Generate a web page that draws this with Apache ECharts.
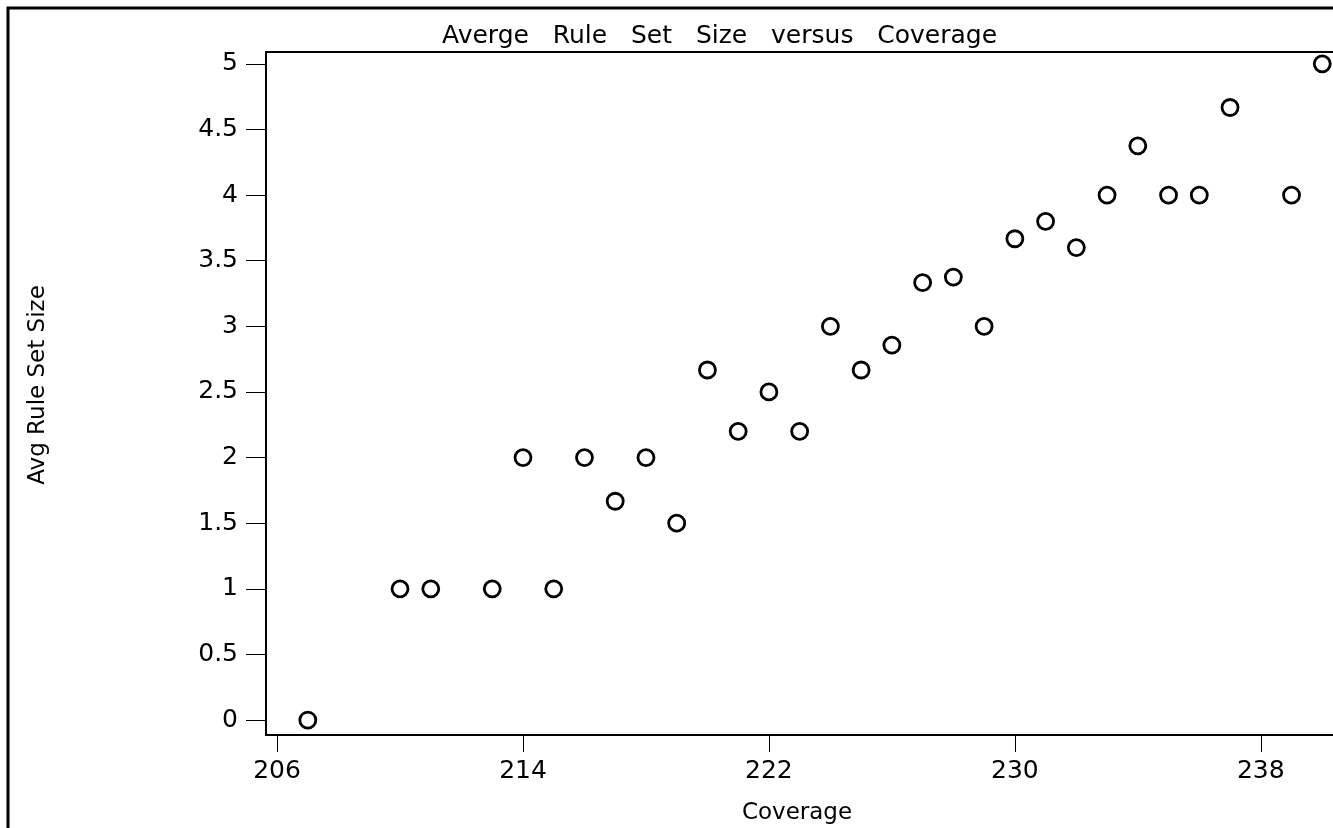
<!DOCTYPE html>
<html>
<head>
<meta charset="utf-8">
<script src="https://cdn.jsdelivr.net/npm/echarts@6/dist/echarts.min.js"></script>
<style>html,body{margin:0;padding:0;background:#fff}#c{width:1333px;height:828px}</style>
</head>
<body>
<div id="c"></div>
<script>
var coverage = [207,210,211,213,214,215,216,217,218,219,220,221,222,223,224,225,226,227,228,229,230,231,232,233,234,235,236,237,239,240];
var avgRuleSetSize = [0,1,1,1,2,1,2,1.667,2,1.5,2.667,2.2,2.5,2.2,3,2.667,2.857,3.333,3.375,3,3.667,3.8,3.6,4,4.375,4,4,4.667,4,5];
var xTicks = [206,214,222,230,238];
var yTicks = [0,0.5,1,1.5,2,2.5,3,3.5,4,4.5,5];
var titleText = 'Averge   Rule   Set   Size   versus   Coverage';
var xName = 'Coverage';
var yName = 'Avg Rule Set Size';

var font = '"DejaVu Sans", sans-serif';
var chart = echarts.init(document.getElementById('c'), null, {renderer:'canvas'});
var pts = coverage.map(function(x,i){return [x, avgRuleSetSize[i]];});
chart.setOption({
  animation:false,
  backgroundColor:'#fff',
  title:{text:titleText,left:437,top:19,textStyle:{fontFamily:font,fontSize:25,fontWeight:'normal',color:'#000'}},
  grid:{left:266,top:52,width:1087,height:683,show:true,borderColor:'#000',borderWidth:2,containLabel:false,outerBoundsMode:'none'},
  xAxis:{type:'value',min:205.64,max:241,
    axisLine:{show:true,onZero:false,lineStyle:{color:'#000',width:2}},
    axisTick:{show:true,customValues:xTicks,length:17,lineStyle:{color:'#000',width:1}},
    axisLabel:{show:true,customValues:xTicks,margin:24,fontFamily:font,fontSize:25,color:'#000'},
    splitLine:{show:false}},
  yAxis:{type:'value',min:-0.114,max:5.09,
    axisLine:{show:true,onZero:false,lineStyle:{color:'#000',width:2}},
    axisTick:{show:true,customValues:yTicks,length:20,lineStyle:{color:'#000',width:1}},
    axisLabel:{show:true,customValues:yTicks,margin:28,fontFamily:font,fontSize:25,color:'#000'},
    splitLine:{show:false}},
  graphic:[
    {type:'rect',shape:{x:8,y:8,width:1500,height:1000},style:{fill:'none',stroke:'#000',lineWidth:3},silent:true,z:100},
    {type:'text',x:797,y:813,style:{text:xName,fontFamily:font,fontSize:23,fill:'#000',textAlign:'center',textVerticalAlign:'middle'}},
    {type:'text',x:38,y:385,rotation:Math.PI/2,style:{text:yName,fontFamily:font,fontSize:23,fill:'#000',textAlign:'center',textVerticalAlign:'middle'}}
  ],
  series:[{type:'scatter',data:pts,symbol:'circle',symbolSize:16,clip:false,
    itemStyle:{color:'#fff',borderColor:'#000',borderWidth:2.8,opacity:1}}]
});
</script>
</body>
</html>
